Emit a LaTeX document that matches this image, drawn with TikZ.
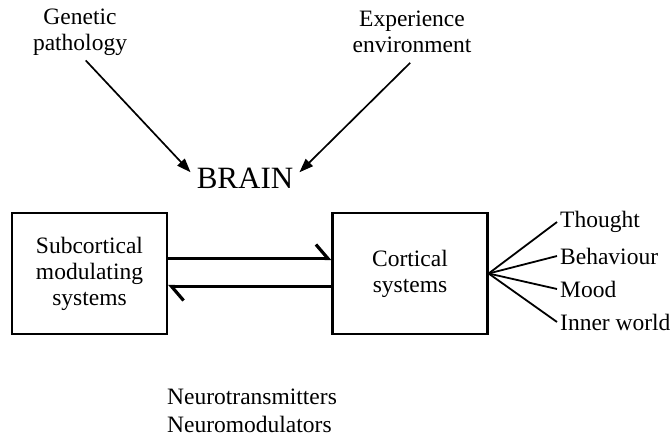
\documentclass[tikz,border=0pt]{standalone}
\usepackage{fontspec}
\setmainfont{Liberation Serif}
\usetikzlibrary{arrows.meta}
\tikzstyle{txt} = [align=center, font=\fontsize{23.5}{26}\selectfont, inner sep=2pt]
\tikzstyle{block} = [rectangle, draw, line width=2.2pt, minimum width=155pt,
    minimum height=121pt, align=center, font=\fontsize{23.5}{26}\selectfont]
\tikzstyle{line} = [draw, -{Triangle[length=14pt,width=10pt]}, line width=1.7pt]
\tikzstyle{half} = [draw, line width=2.2pt,
    -{Straight Barb[harpoon,length=12pt,width=28pt,line width=3.2pt]}]
\tikzstyle{fan} = [draw, line width=1.8pt]

\begin{document}
\begin{tikzpicture}[x=1pt, y=-1pt]
    \useasboundingbox (0,0) rectangle (672,440);
    \node [txt] (gen) at (80,32) {Genetic\\pathology};
    \node [txt] (exp) at (412,32) {Experience\\environment};
    \node [font=\fontsize{31}{36}\selectfont, inner xsep=6pt, inner ysep=2pt] (brain) at (245,178) {BRAIN};
    \node [block] (sub) at (89.5,273.5) {Subcortical\\modulating\\systems};
    \node [block] (cort) at (410,273.5) {Cortical\\systems};
    \node [txt, anchor=west, inner sep=3pt] (thought) at (557,222) {Thought};
    \node [txt, anchor=west, inner sep=3pt] (behav) at (557,256) {Behaviour};
    \node [txt, anchor=west, inner sep=3pt] (mood) at (557,289) {Mood};
    \node [txt, anchor=west, inner sep=3pt] (inner) at (557,322) {Inner world};
    \node [txt, anchor=west] (ntrans) at (165,397) {Neurotransmitters};
    \node [txt, anchor=west] (nmod) at (165,424) {Neuromodulators};

    \path [line, shorten <=4pt] ([xshift=3pt]gen.south) -- (brain.174);
    \path [line, shorten <=11pt] ([xshift=6pt]exp.south) -- (brain.6);
    \path [half] ([yshift=15pt]sub.east) -- ([yshift=15pt]cort.west);
    \path [half] ([yshift=-13pt]cort.west) -- ([yshift=-13pt]sub.east);
    \path [fan] (cort.east) -- (thought.west);
    \path [fan] (cort.east) -- (behav.west);
    \path [fan] (cort.east) -- (mood.west);
    \path [fan] (cort.east) -- (inner.west);

\end{tikzpicture}
\end{document}
